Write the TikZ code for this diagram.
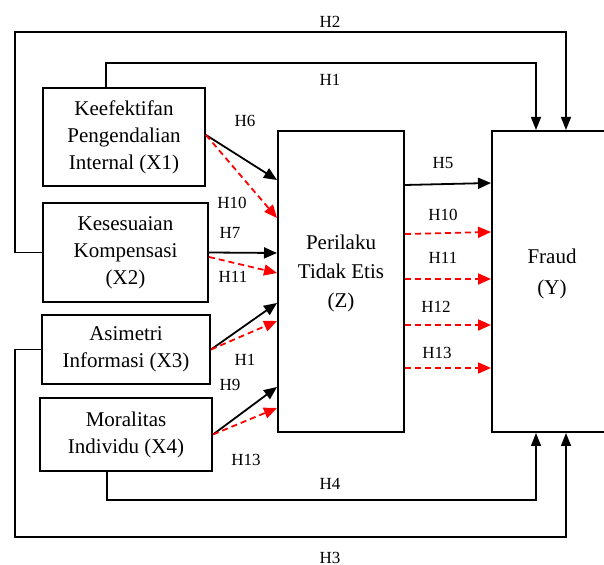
\documentclass[tikz,border=0pt]{standalone}
\usepackage{fontspec}
\setmainfont{Liberation Serif}
\usetikzlibrary{arrows.meta,positioning,calc}

\begin{document}
\begin{tikzpicture}[
    x=0.5pt, y=-0.5pt,
    box/.style={draw, rectangle, line width=1pt, align=center, inner sep=0pt, font=\fontsize{10.5}{13.5}\selectfont},
    txt/.style={align=center, inner sep=0pt, font=\fontsize{10.5}{14.5}\selectfont},
    lbl/.style={inner sep=1pt, font=\fontsize{8.5}{10}\selectfont},
    hyp/.style={-{Triangle[length=6.5pt,width=5.5pt]}, line width=0.9pt},
    med/.style={-{Triangle[length=6.5pt,width=5.5pt]}, line width=0.9pt, red, dash pattern=on 3pt off 2pt},
    link/.style={-{Triangle[length=6.5pt,width=5pt]}, line width=0.7pt}
]
    \useasboundingbox (0,0) rectangle (604,565);

    % Variables
    \node[box, minimum width=81pt, minimum height=49pt] (x1) at (124,137) {Keefektifan\\Pengendalian\\Internal (X1)};
    \node[box, minimum width=82.5pt, minimum height=49.5pt] (x2) at (125.5,252.5) {Kesesuaian\\Kompensasi\\(X2)};
    \node[box, minimum width=84pt, minimum height=34.5pt] (x3) at (126,349.5) {Asimetri\\Informasi (X3)};
    \node[box, minimum width=86pt, minimum height=36.5pt] (x4) at (126,434.5) {Moralitas\\Individu (X4)};
    \node[box, minimum width=63pt, minimum height=150.5pt] (z) at (341,281.5) {};
    \node[txt] (ztext) at ([yshift=4.25pt]z.center) {Perilaku\\Tidak Etis\\(Z)};
    \node[box, minimum width=60pt, minimum height=150.5pt] (y) at (552,281.5) {};
    \node[txt, font=\fontsize{10.5}{15.5}\selectfont] (ytext) at ([yshift=4pt]y.center) {Fraud\\(Y)};

    % Routing points
    \coordinate (c2) at (15,32);
    \coordinate (r1) at (330,63);
    \coordinate (r4) at (330,500);
    \coordinate (c3) at (15,537);
    \coordinate (h1in) at ([xshift=22.5pt]y.north west);
    \coordinate (h2in) at ([xshift=37.5pt]y.north west);
    \coordinate (h4in) at ([xshift=22.5pt]y.south west);
    \coordinate (h3in) at ([xshift=37.5pt]y.south west);

    % Direct effects on fraud
    \draw[link] ([xshift=-9pt]x1.north) |- (r1) -| (h1in);
    \draw[link] (x2.west) -| (c2) -| (h2in);
    \draw[link] (x3.west) -| (c3) -| (h3in);
    \draw[link] ([xshift=-9.5pt]x4.south) |- (r4) -| (h4in);

    % Effects on Z
    \draw[hyp] ([yshift=1pt]x1.east) -- ([yshift=50.75pt]z.west);
    \draw[med] ([yshift=1pt]x1.east) -- ([yshift=31.75pt]z.west);
    \draw[hyp] (x2.east) -- ([yshift=14.25pt]z.west);
    \draw[med] ([yshift=-2.25pt]x2.east) -- ([yshift=4.25pt]z.west);
    \draw[hyp] (x3.east) -- ([yshift=-10.75pt]z.west);
    \draw[med] (x3.east) -- ([yshift=-19.75pt]z.west);
    \draw[hyp] (x4.east) -- ([yshift=-52.75pt]z.west);
    \draw[med] (x4.east) -- ([yshift=-63.25pt]z.west);

    % Z to fraud
    \draw[hyp] ([yshift=48.25pt]z.east) -- ([yshift=49.25pt]y.west);
    \draw[med] ([yshift=23.75pt]z.east) -- ([yshift=24.75pt]y.west);
    \draw[med] ([yshift=1.25pt]z.east) -- ([yshift=1.25pt]y.west);
    \draw[med] ([yshift=-21.75pt]z.east) -- ([yshift=-21.75pt]y.west);
    \draw[med] ([yshift=-43.25pt]z.east) -- ([yshift=-43.25pt]y.west);

    % Labels
    \node[lbl] (lh2) at (330,22) {H2};
    \node[lbl] (lh1) at (330,80) {H1};
    \node[lbl] (lh6) at (245,121) {H6};
    \node[lbl] (lh10a) at (232,203) {H10};
    \node[lbl] (lh7) at (230,233) {H7};
    \node[lbl] (lh11a) at (233,277) {H11};
    \node[lbl] (lh12a) at (245,360) {H1};
    \node[lbl] (lh9) at (230,385) {H9};
    \node[lbl] (lh13a) at (246,460) {H13};
    \node[lbl] (lh5) at (443,163) {H5};
    \node[lbl] (lh10b) at (443,215) {H10};
    \node[lbl] (lh11b) at (443,258) {H11};
    \node[lbl] (lh12b) at (436,307) {H12};
    \node[lbl] (lh13b) at (437,353) {H13};
    \node[lbl] (lh4) at (330,484) {H4};
    \node[lbl] (lh3) at (330,558) {H3};

\end{tikzpicture}
\end{document}
